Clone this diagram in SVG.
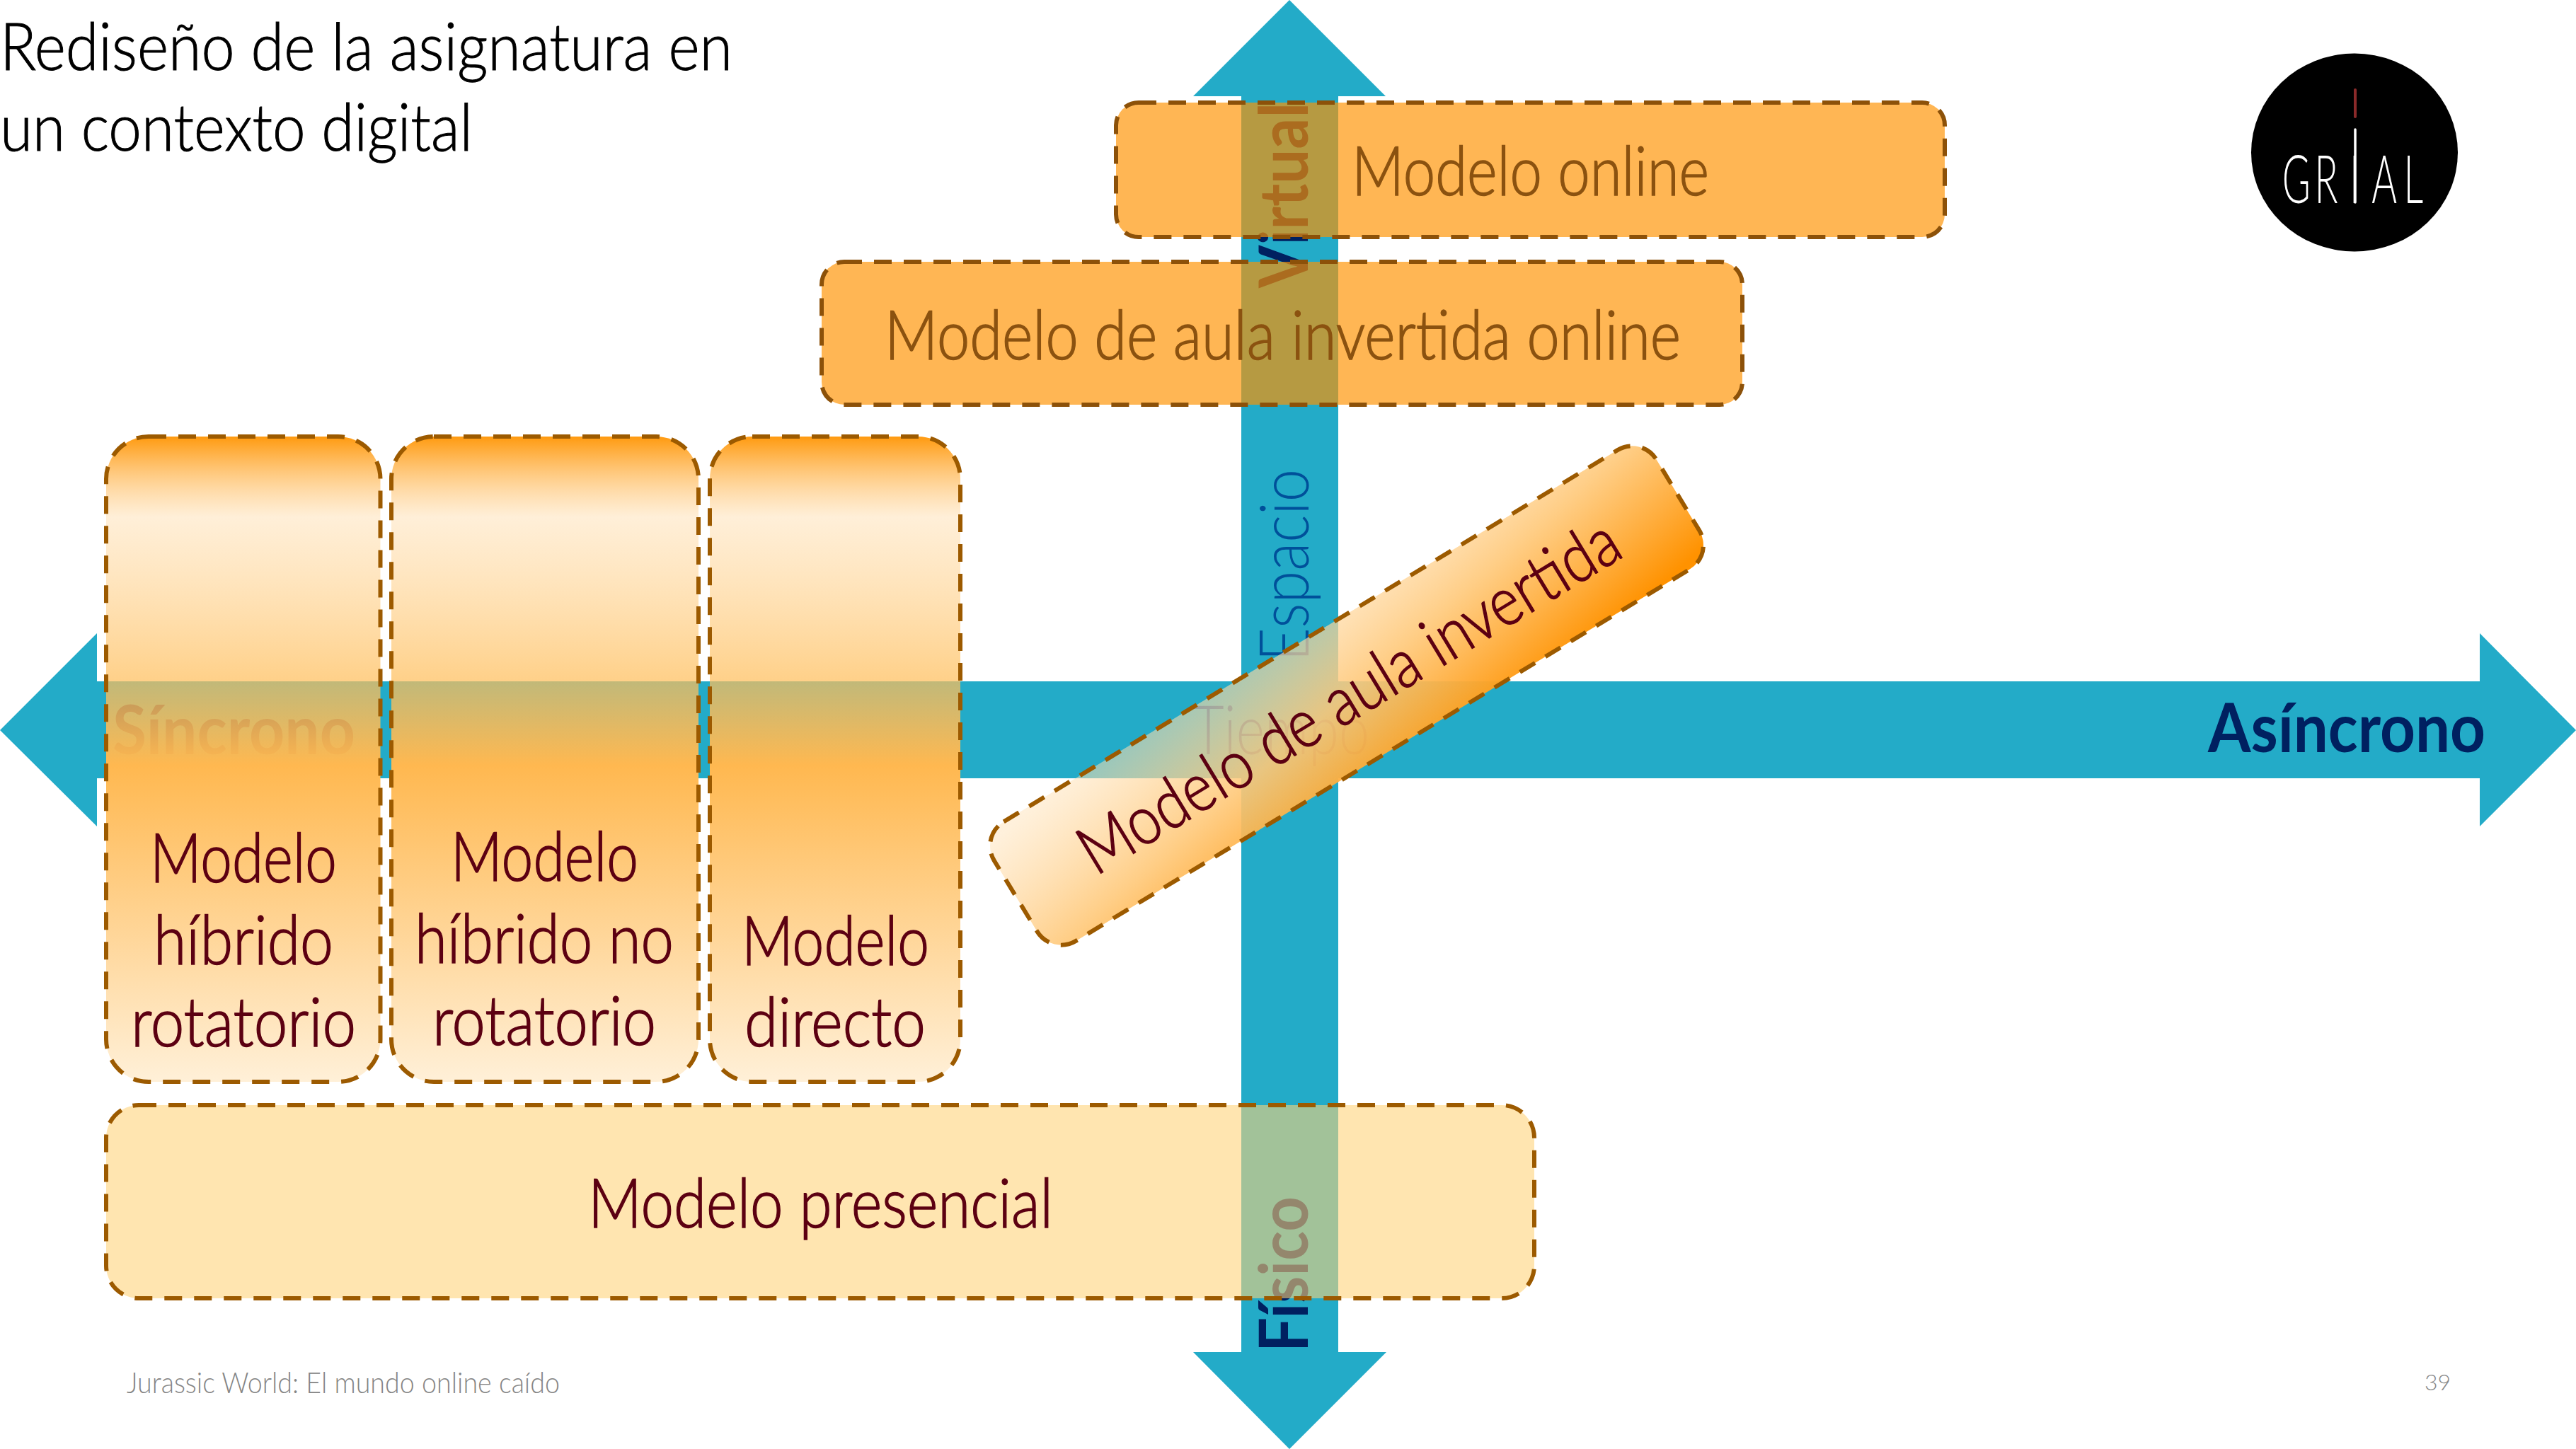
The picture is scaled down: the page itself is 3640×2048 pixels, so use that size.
<svg xmlns="http://www.w3.org/2000/svg" width="3640" height="2048" viewBox="0 0 3640 2048">
<style>
text{font-family:"Lato","Open Sans","Liberation Sans",sans-serif}
.t{font-weight:300;font-size:96px;fill:#5c0012;stroke:#5c0012;stroke-width:1.5}
.b{font-weight:300;font-size:96px;fill:#8b5210;stroke:#8b5210;stroke-width:1.5}
.ax{font-weight:700;font-size:96px;fill:#002060}
.ti{font-size:92px;font-weight:300;fill:#000;stroke:#000;stroke-width:1}
.box{stroke-width:6;stroke-dasharray:25 17}
.arrow{fill:#23abc8}
</style>
<defs>
<linearGradient id="col" x1="0" y1="0" x2="0" y2="1">
<stop offset="0" stop-color="#ff9a0f"/>
<stop offset=".125" stop-color="#ffdfb1" stop-opacity=".5"/>
<stop offset=".38" stop-color="#ffbe5a" stop-opacity=".72"/>
<stop offset=".51" stop-color="#ffb850"/>
<stop offset="1" stop-color="#fff0d8"/>
</linearGradient>
<linearGradient id="diag" gradientUnits="userSpaceOnUse" x1="1787" y1="851" x2="2019" y2="1115" gradientTransform="rotate(31.200 1903 983)">
<stop offset="0" stop-color="#ffe2b8" stop-opacity=".5"/>
<stop offset=".5" stop-color="#ffc878" stop-opacity=".9"/>
<stop offset="1" stop-color="#ff9200"/>
</linearGradient>
</defs>
<g id="connectors">
<polygon class="arrow" points="0,1032 137,895 137,963 3504,963 3504,895 3640,1032 3504,1168 3504,1100 137,1100 137,1168"/>
<polygon class="arrow" points="1822,0 1958,136 1891,136 1891,1911 1959,1911 1822,2048 1686,1911 1754,1911 1754,136 1686,136"/>
</g>
<g id="axis-labels">
<text class="ax" x="159" y="1066" textLength="343" lengthAdjust="spacingAndGlyphs">Síncrono</text>
<text class="ax" x="3120" y="1063" textLength="392" lengthAdjust="spacingAndGlyphs">Asíncrono</text>
<text x="1685" y="1066" font-size="96" font-weight="300" fill="#00509a" textLength="250" lengthAdjust="spacingAndGlyphs">Tiempo</text>
<text transform="translate(1849 935) rotate(-90)" font-size="96" font-weight="300" fill="#00509a" textLength="272" lengthAdjust="spacingAndGlyphs">Espacio</text>
<text class="ax" transform="translate(1848 407) rotate(-90)" textLength="262" lengthAdjust="spacingAndGlyphs">Virtual</text>
<text class="ax" transform="translate(1848 1911) rotate(-90)" textLength="220" lengthAdjust="spacingAndGlyphs">Físico</text>
</g>
<g id="modelo-online">
<rect class="box" x="1577" y="145" width="1171" height="190" rx="32" fill="#ff9200" fill-opacity=".67" stroke="#8c5109"/>
<text class="b" x="1910" y="276" textLength="505" lengthAdjust="spacingAndGlyphs">Modelo online</text>
</g>
<g id="modelo-aula-invertida-online">
<rect class="box" x="1161" y="370" width="1301" height="202" rx="32" fill="#ff9200" fill-opacity=".67" stroke="#8c5109"/>
<text class="b" x="1250" y="508" textLength="1125" lengthAdjust="spacingAndGlyphs">Modelo de aula invertida online</text>
</g>
<g id="modelo-hibrido-rotatorio">
<rect class="box" x="150" y="617" width="387.500" height="912" rx="60" fill="url(#col)" stroke="#9c5a00"/>
<text class="t" x="212" y="1247" textLength="264" lengthAdjust="spacingAndGlyphs">Modelo</text>
<text class="t" x="217" y="1363" textLength="254" lengthAdjust="spacingAndGlyphs">híbrido</text>
<text class="t" x="185" y="1479" textLength="318" lengthAdjust="spacingAndGlyphs">rotatorio</text>
</g>
<g id="modelo-hibrido-no-rotatorio">
<rect class="box" x="553" y="617" width="434" height="912" rx="60" fill="url(#col)" stroke="#9c5a00"/>
<text class="t" x="637" y="1245" textLength="265" lengthAdjust="spacingAndGlyphs">Modelo</text>
<text class="t" x="586" y="1361" textLength="366" lengthAdjust="spacingAndGlyphs">híbrido no</text>
<text class="t" x="611" y="1477" textLength="316" lengthAdjust="spacingAndGlyphs">rotatorio</text>
</g>
<g id="modelo-directo">
<rect class="box" x="1003" y="617" width="354" height="912" rx="60" fill="url(#col)" stroke="#9c5a00"/>
<text class="t" x="1048" y="1364" textLength="265" lengthAdjust="spacingAndGlyphs">Modelo</text>
<text class="t" x="1052" y="1479" textLength="256" lengthAdjust="spacingAndGlyphs">directo</text>
</g>
<g id="modelo-presencial">
<rect class="box" x="150" y="1562" width="2018" height="273" rx="46" fill="#ffd277" fill-opacity=".58" stroke="#9c5a00"/>
<text class="t" x="831" y="1735" textLength="657" lengthAdjust="spacingAndGlyphs">Modelo presencial</text>
</g>
<g id="modelo-aula-invertida">
<rect class="box" x="1356" y="884.500" width="1094" height="197" rx="40" transform="rotate(-31.200 1903 983)" fill="url(#diag)" stroke="#9c5a00"/>
<text class="t" transform="translate(1903 983) rotate(-31.200)" x="-436" y="35" textLength="876" lengthAdjust="spacingAndGlyphs">Modelo de aula invertida</text>
</g>
<g id="title">
<text class="ti" x="0" y="99" textLength="1035" lengthAdjust="spacingAndGlyphs">Rediseño de la asignatura en</text>
<text class="ti" x="0" y="213" textLength="668" lengthAdjust="spacingAndGlyphs">un contexto digital</text>
</g>
<g id="logo">
<ellipse cx="3327" cy="215.500" rx="146" ry="140" fill="#000"/>
<line x1="3328" y1="127" x2="3328" y2="165" stroke="#8b2a2a" stroke-width="4" stroke-linecap="round"/>
<line x1="3328" y1="183" x2="3328" y2="286" stroke="#fff" stroke-width="3.500" stroke-linecap="round"/>
<text transform="translate(0 287) scale(.58 1)" x="5560 5639 5724 5778 5856" y="0" font-size="94" font-weight="300" fill="#fff">GRIAL</text>
</g>
<g id="footer">
<text x="179" y="1969" font-size="42" font-weight="300" fill="#858585" textLength="612" lengthAdjust="spacingAndGlyphs">Jurassic World: El mundo online caído</text>
<text x="3426" y="1965" font-size="32" font-weight="300" fill="#8a8a8a">39</text>
</g>
</svg>
